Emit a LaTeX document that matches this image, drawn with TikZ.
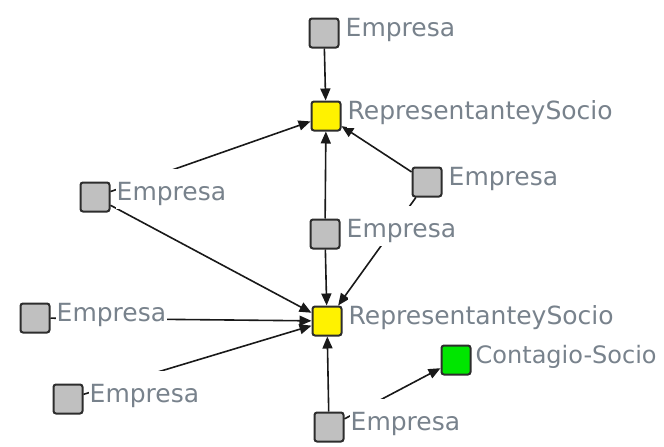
\documentclass[tikz,border=0pt]{standalone}
\usepackage{fontspec}
\setmainfont{DejaVu Sans}
\usetikzlibrary{arrows.meta}
\definecolor{lblgray}{RGB}{120,130,140}
\definecolor{boxgray}{RGB}{192,192,192}
\definecolor{bordergray}{RGB}{45,45,45}
\definecolor{greenbox}{RGB}{0,230,0}
\begin{document}
\begin{tikzpicture}[x=1pt,y=-1pt,
  sq/.style={draw=bordergray, line width=2pt, rounded corners=2.5pt, minimum size=29pt, inner sep=0pt, fill=boxgray},
  rs/.style={sq, fill=yellow},
  ct/.style={sq, fill=greenbox},
  lbl/.style={fill=white, text=lblgray, font=\fontsize{25}{30}\selectfont, inner xsep=1pt, inner ysep=0pt, text height=31pt, text depth=9pt, anchor=base west},
  arr/.style={-{Triangle[length=12pt,width=10pt]}, line width=1.6pt, draw=black!90}]
\fill[white] (0,0) rectangle (664,447);
\useasboundingbox (0,0) rectangle (664,447);
% squares
\node[sq] (e1) at (324,33) {};
\node[rs] (rs1) at (326,116) {};
\node[sq] (e2) at (95,197) {};
\node[sq] (e3) at (427,182) {};
\node[sq] (e4) at (325,234) {};
\node[rs] (rs2) at (327,321) {};
\node[sq] (e5) at (35,318) {};
\node[sq] (e6) at (68,399) {};
\node[sq] (e7) at (329,427) {};
\node[ct] (g) at (456,360) {};
% edges
\draw[arr] (e1) -- (rs1);
\draw[arr] (e2) -- (rs1);
\draw[arr] (e3) -- (rs1);
\draw[arr] (e4) -- (rs1);
\draw[arr] (e4) -- (rs2);
\draw[arr] (e3) -- (rs2);
\draw[arr] (e2) -- (rs2);
\draw[arr] (e5) -- (rs2);
\draw[arr] (e6) -- (rs2);
\draw[arr] (e7) -- (rs2);
\draw[arr] (e7) -- (g);
% labels
\node[lbl] (l1) at ([xshift=5pt,yshift=-3pt]e1.east) {Empresa};
\node[lbl] (lrs1) at ([xshift=5pt,yshift=-3pt]rs1.east) {RepresentanteySocio};
\node[lbl] (l2) at ([xshift=5pt,yshift=-3pt]e2.east) {Empresa};
\node[lbl] (l3) at ([xshift=5pt,yshift=-3pt]e3.east) {Empresa};
\node[lbl] (l4) at ([xshift=5pt,yshift=-3pt]e4.east) {Empresa};
\node[lbl] (lrs2) at ([xshift=5pt,yshift=-3pt]rs2.east) {RepresentanteySocio};
\node[lbl] (l5) at ([xshift=5pt,yshift=-3pt]e5.east) {Empresa};
\node[lbl] (l6) at ([xshift=5pt,yshift=-3pt]e6.east) {Empresa};
\node[lbl] (l7) at ([xshift=5pt,yshift=-3pt]e7.east) {Empresa};
\node[lbl, font=\fontsize{24}{29}\selectfont, inner xsep=0pt] (lg) at ([xshift=4pt,yshift=-3pt]g.east) {Contagio-Socio};
\end{tikzpicture}
\end{document}
